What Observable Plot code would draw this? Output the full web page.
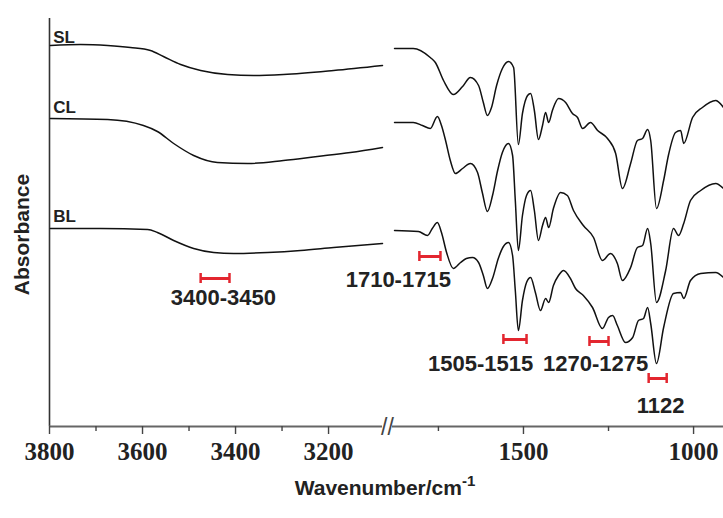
<!DOCTYPE html>
<html>
<head>
<meta charset="utf-8">
<script src="https://cdn.jsdelivr.net/npm/d3@7"></script>
<script src="https://cdn.jsdelivr.net/npm/@observablehq/plot@0.6"></script>
<style>
  html, body { margin: 0; padding: 0; background: #fff; }
  #chart { width: 723px; height: 518px; }
</style>
</head>
<body>
<div id="chart"></div>
<script>
// ---------- DATA ----------
const seriesNames = ["SL", "CL", "BL"];

// High-wavenumber region (3800 – 3084 cm-1)
const wnLeftSL  = [3798, 3733, 3675, 3626, 3583, 3555, 3518, 3475, 3417, 3361, 3297, 3189, 3084];
const absLeftSL = [381, 382, 381, 379, 376, 370, 362, 356, 352, 351, 352, 356, 361];
const wnLeftCL  = [3798, 3675, 3598, 3568, 3533, 3490, 3439, 3374, 3297, 3224, 3153, 3084];
const absLeftCL = [308, 307, 301, 295, 283, 271, 264, 263, 266, 270, 274, 279];
const wnLeftBL  = [3798, 3690, 3589, 3568, 3533, 3490, 3447, 3404, 3331, 3260, 3189, 3084];
const absLeftBL = [198, 198, 197, 194, 186, 178, 174, 173, 174, 176, 179, 183];

// Fingerprint region (1879 – 912 cm-1)
const wnRightSL  = [1879,1824,1774,1759,1735,1706,1679,1656,1632,1618,1606,1594,1579,1562,1544,1529,1515,1503,1488,1479,1468,1456,1444,1435,1426,1415,1397,1376,1356,1341,1326,1303,1282,1253,1229,1209,1185,1165,1150,1135,1126,1109,1088,1074,1053,1038,1029,1003,974,935,912];
const absRightSL = [378,378,369,364,346,332,340,349,341,324,311,319,341,358,365,359,282,313,331,333,316,287,301,314,304,316,328,324,313,309,298,304,296,288,273,238,263,286,288,297,286,218,246,271,294,296,283,309,319,326,319];
const wnRightCL  = [1879,1824,1797,1774,1753,1741,1729,1715,1700,1679,1656,1635,1621,1606,1591,1576,1562,1544,1532,1524,1515,1503,1491,1479,1468,1456,1444,1435,1426,1412,1391,1371,1353,1324,1294,1268,1244,1224,1209,1185,1165,1150,1135,1126,1109,1082,1059,1044,1029,1009,979,935,912];
const absRightCL = [304,304,301,298,310,301,286,266,253,258,263,254,234,215,231,256,274,283,271,226,176,211,231,236,216,186,201,209,199,218,234,231,216,201,189,166,173,163,146,159,179,181,198,183,124,156,198,191,203,226,236,243,238];
const wnRightBL  = [1879,1809,1782,1768,1753,1741,1726,1706,1685,1668,1650,1632,1618,1606,1591,1574,1559,1544,1532,1524,1515,1503,1491,1479,1465,1450,1435,1426,1412,1397,1382,1362,1347,1324,1297,1268,1250,1238,1224,1200,1179,1162,1147,1135,1126,1109,1088,1059,1038,1029,1009,979,935,912];
const absRightBL = [196,195,191,198,204,194,174,158,164,168,169,164,151,138,148,168,180,184,171,136,96,126,144,149,134,116,128,124,141,151,156,148,138,131,119,98,109,111,101,84,89,106,108,119,103,63,99,133,134,128,146,153,154,149];

// Series label anchor values
const seriesLabelWn  = [3792, 3792, 3792];
const seriesLabelAbs = [389, 319, 210];

// Band annotations
const bandLabels   = ["3400-3450", "1710-1715", "1505-1515", "1270-1275", "1122"];
const bandLabelWn  = [3426, 1868, 1626, 1288, 1097];
const bandLabelAbs = [129, 147, 63, 63, 21];
const bandFrom     = [3475, 1806, 1559, 1306, 1132];
const bandTo       = [3413, 1744, 1491, 1250, 1079];
const bandAbs      = [148, 170, 87, 85, 48];

// Axis
const majorTicks = [3800, 3600, 3400, 3200, 1500, 1000];
const minorTicks = [3700, 3500, 3300, 1750, 1250];
const leftSpan  = [3800, 3084];
const rightSpan = [1885, 912];

// ---------- BUILD TABLES ----------
const segs = {
  SL: [[wnLeftSL, absLeftSL], [wnRightSL, absRightSL]],
  CL: [[wnLeftCL, absLeftCL], [wnRightCL, absRightCL]],
  BL: [[wnLeftBL, absLeftBL], [wnRightBL, absRightBL]]
};
const spectra = [];
for (const s of seriesNames) {
  segs[s].forEach(([wn, ab], i) => {
    wn.forEach((w, j) => spectra.push({key: s + i, wn: w, a: ab[j]}));
  });
}
const seriesLabels = seriesNames.map((s, i) => ({s, wn: seriesLabelWn[i], a: seriesLabelAbs[i]}));
const bands = bandLabels.map((t, i) => ({t, lx: bandLabelWn[i], ly: bandLabelAbs[i], x1: bandFrom[i], x2: bandTo[i], y: bandAbs[i]}));
const caps = bands.flatMap(b => [{x: b.x1, y: b.y}, {x: b.x2, y: b.y}]);
const axisSegs = [{x1: leftSpan[0], x2: leftSpan[1]}, {x1: rightSpan[0], x2: rightSpan[1]}];
const breakPos = [{x: (leftSpan[1] + rightSpan[0]) / 2}];

const red = "#e3262f";
const sans = "'Liberation Sans', Arial, sans-serif";
const serif = "'Liberation Serif', 'Times New Roman', serif";

const chart = Plot.plot({
  width: 723,
  height: 518,
  marginTop: 18,
  marginBottom: 92,
  marginLeft: 49,
  marginRight: 0,
  style: {background: "#fff", overflow: "visible"},
  x: {type: "linear", domain: [leftSpan[0], leftSpan[1], rightSpan[0], rightSpan[1]], range: [49, 382, 392, 723], axis: null},
  y: {type: "linear", domain: [0, 408], axis: null},
  marks: [
    // axes lines
    Plot.ruleX([leftSpan[0]], {stroke: "#333", strokeWidth: 1.6}),
    Plot.ruleY(axisSegs, {y: 0, x1: "x1", x2: "x2", stroke: "#666", strokeWidth: 2.2}),
    Plot.text(breakPos, {x: "x", y: 0, text: () => "//", fontSize: 23, fontFamily: sans, fill: "#444", dy: 1}),
    Plot.axisX(minorTicks, {tickSize: 5, text: null, stroke: "#444", strokeWidth: 1.4}),
    Plot.axisX(majorTicks, {tickSize: 8, tickPadding: 8, stroke: "#444", strokeWidth: 1.4,
      fontSize: 25, fontWeight: "bold", fontFamily: serif, fill: "#222", tickFormat: d => String(d)}),
    // spectra
    Plot.line(spectra, {x: "wn", y: "a", z: "key", stroke: "#111", strokeWidth: 1.5, curve: "monotone-x"}),
    // series labels
    Plot.text(seriesLabels, {x: "wn", y: "a", text: "s", textAnchor: "start", fontSize: 17, fontWeight: "bold", fontFamily: sans, fill: "#222"}),
    // band markers
    Plot.ruleY(bands, {y: "y", x1: "x1", x2: "x2", stroke: red, strokeWidth: 3}),
    Plot.ruleX(caps, {x: "x", y1: d => d.y - 5, y2: d => d.y + 5, stroke: red, strokeWidth: 2.5}),
    Plot.text(bands, {x: "lx", y: "ly", text: "t", fontSize: 22, fontWeight: "bold", fontFamily: sans, fill: "#222"}),
    // y label
    Plot.text(["Absorbance"], {frameAnchor: "left", textAnchor: "middle", rotate: -90, dx: -27, dy: 12, fontSize: 21, fontWeight: "bold", fontFamily: sans, fill: "#222"})
  ]
});

// x-axis title with superscript
const svg = d3.select(chart);
const title = svg.append("text")
  .attr("x", 385).attr("y", 495)
  .attr("text-anchor", "middle")
  .attr("font-family", sans).attr("font-weight", "bold").attr("font-size", 21).attr("fill", "#222");
title.append("tspan").text("Wavenumber/cm");
title.append("tspan").attr("dy", -9).attr("font-size", 15).text("-1");

document.getElementById("chart").appendChild(chart);
</script>
</body>
</html>
